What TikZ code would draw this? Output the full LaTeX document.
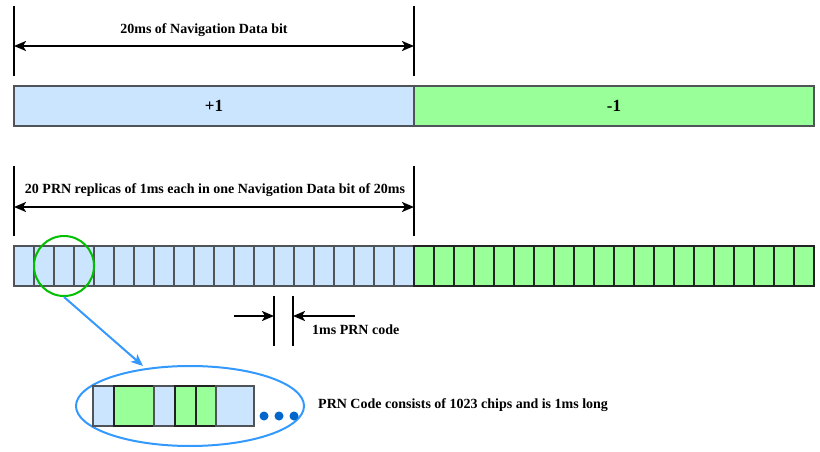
\documentclass[tikz,border=0pt]{standalone}
\usepackage{fontspec}
\setmainfont{Liberation Serif}
\usetikzlibrary{arrows.meta,shapes.geometric}
\definecolor{cblue}{HTML}{CCE5FF}
\definecolor{cgreen}{HTML}{99FF99}
\definecolor{bedge}{HTML}{505358}
\definecolor{gedge}{HTML}{222222}
\definecolor{ringgreen}{HTML}{00C000}
\definecolor{lineblue}{HTML}{3399FF}
\definecolor{dotblue}{HTML}{0066CC}
\tikzset{
  bcell/.style={draw=bedge, fill=cblue, line width=2pt, inner sep=0pt, outer sep=0pt, anchor=north west},
  gcell/.style={draw=gedge, fill=cgreen, line width=2pt, inner sep=0pt, outer sep=0pt, anchor=north west},
  tick/.style={line width=2pt, black},
  dim/.style={line width=2pt, black, {Stealth[length=12pt,width=10pt,inset=3pt]}-{Stealth[length=12pt,width=10pt,inset=3pt]}},
  oneway/.style={line width=2pt, black, -{Stealth[length=12pt,width=10pt,inset=3pt]}},
  lbl/.style={font=\fontsize{14}{16}\selectfont\bfseries, inner sep=0pt},
  biglbl/.style={font=\fontsize{17}{19}\selectfont\bfseries, inner sep=0pt},
  dot/.style={circle, fill=dotblue, minimum size=9pt, inner sep=0pt}
}
\begin{document}
\begin{tikzpicture}[x=1pt,y=-1pt]
\useasboundingbox (0,0) rectangle (820,452);

% top bar
\node[bcell, minimum width=400pt, minimum height=40pt] (plus) at (14,86) {};
\node[gcell, draw=bedge, minimum width=400pt, minimum height=40pt] (minus) at (414,86) {};
\node[biglbl] (plusl) at (plus.center) {+1};
\node[biglbl] (minusl) at (minus.center) {-1};

% top dimension
\coordinate (t1a) at (14,6);  \coordinate (t1b) at (14,76);
\coordinate (t2a) at (414,6); \coordinate (t2b) at (414,76);
\draw[tick] (t1a) -- (t1b);
\draw[tick] (t2a) -- (t2b);
\coordinate (d1a) at (14,46); \coordinate (d1b) at (414,46);
\draw[dim] (d1a) -- (d1b);
\node[lbl] (toplbl) at (204,30) {20ms of Navigation Data bit};

% second dimension
\coordinate (s1a) at (14,166);  \coordinate (s1b) at (14,236);
\coordinate (s2a) at (414,166); \coordinate (s2b) at (414,236);
\draw[tick] (s1a) -- (s1b);
\draw[tick] (s2a) -- (s2b);
\coordinate (d2a) at (14,207); \coordinate (d2b) at (414,207);
\draw[dim] (d2a) -- (d2b);
\node[lbl] (midlbl) at (215,190) {20 PRN replicas of 1ms each in one Navigation Data bit of 20ms};

% cells
\foreach \i in {0,...,19} {
  \node[bcell, minimum width=20pt, minimum height=40pt] (b\i) at ({14+20*\i},246) {};
}
\foreach \i in {0,...,19} {
  \node[gcell, minimum width=20pt, minimum height=40pt] (g\i) at ({414+20*\i},246) {};
}

% 1ms PRN code marker
\coordinate (m1a) at (274,296); \coordinate (m1b) at (274,346);
\coordinate (m2a) at (293,296); \coordinate (m2b) at (293,346);
\draw[tick] (m1a) -- (m1b);
\draw[tick] (m2a) -- (m2b);
\coordinate (la) at (234,316); \coordinate (lb) at (274,316);
\coordinate (ra) at (355,316); \coordinate (rb) at (293,316);
\draw[oneway] (la) -- (lb);
\draw[oneway] (ra) -- (rb);
\node[lbl, anchor=west] (prnlbl) at (312,330) {1ms PRN code};

% zoom circle and arrow
\node[circle, draw=ringgreen, line width=2pt, minimum size=60pt, inner sep=0pt] (zc) at (64,266) {};
\coordinate (zend) at (143,366);
\draw[lineblue, line width=2pt, -{Stealth[length=12pt,width=10pt,inset=3pt]}] (zc.south) -- (zend);

% magnified chips
\node[ellipse, draw=lineblue, line width=2pt, minimum width=228pt, minimum height=80pt, inner sep=0pt] (ell) at (190,406) {};
\node[bcell, minimum width=21pt, minimum height=40pt] (c1) at (93,386) {};
\node[gcell, minimum width=40pt, minimum height=40pt] (c2) at (114,386) {};
\node[bcell, minimum width=21pt, minimum height=40pt] (c3) at (154,386) {};
\node[gcell, minimum width=21pt, minimum height=40pt] (c4) at (175,386) {};
\node[gcell, minimum width=20pt, minimum height=40pt] (c5) at (196,386) {};
\node[bcell, minimum width=38pt, minimum height=40pt] (c6) at (216,386) {};
\node[dot] (dt1) at (264,416) {};
\node[dot] (dt2) at (279,416) {};
\node[dot] (dt3) at (294,416) {};
\node[lbl, anchor=west] (chiplbl) at (318,405) {PRN Code consists of 1023 chips and is 1ms long};
\end{tikzpicture}
\end{document}
